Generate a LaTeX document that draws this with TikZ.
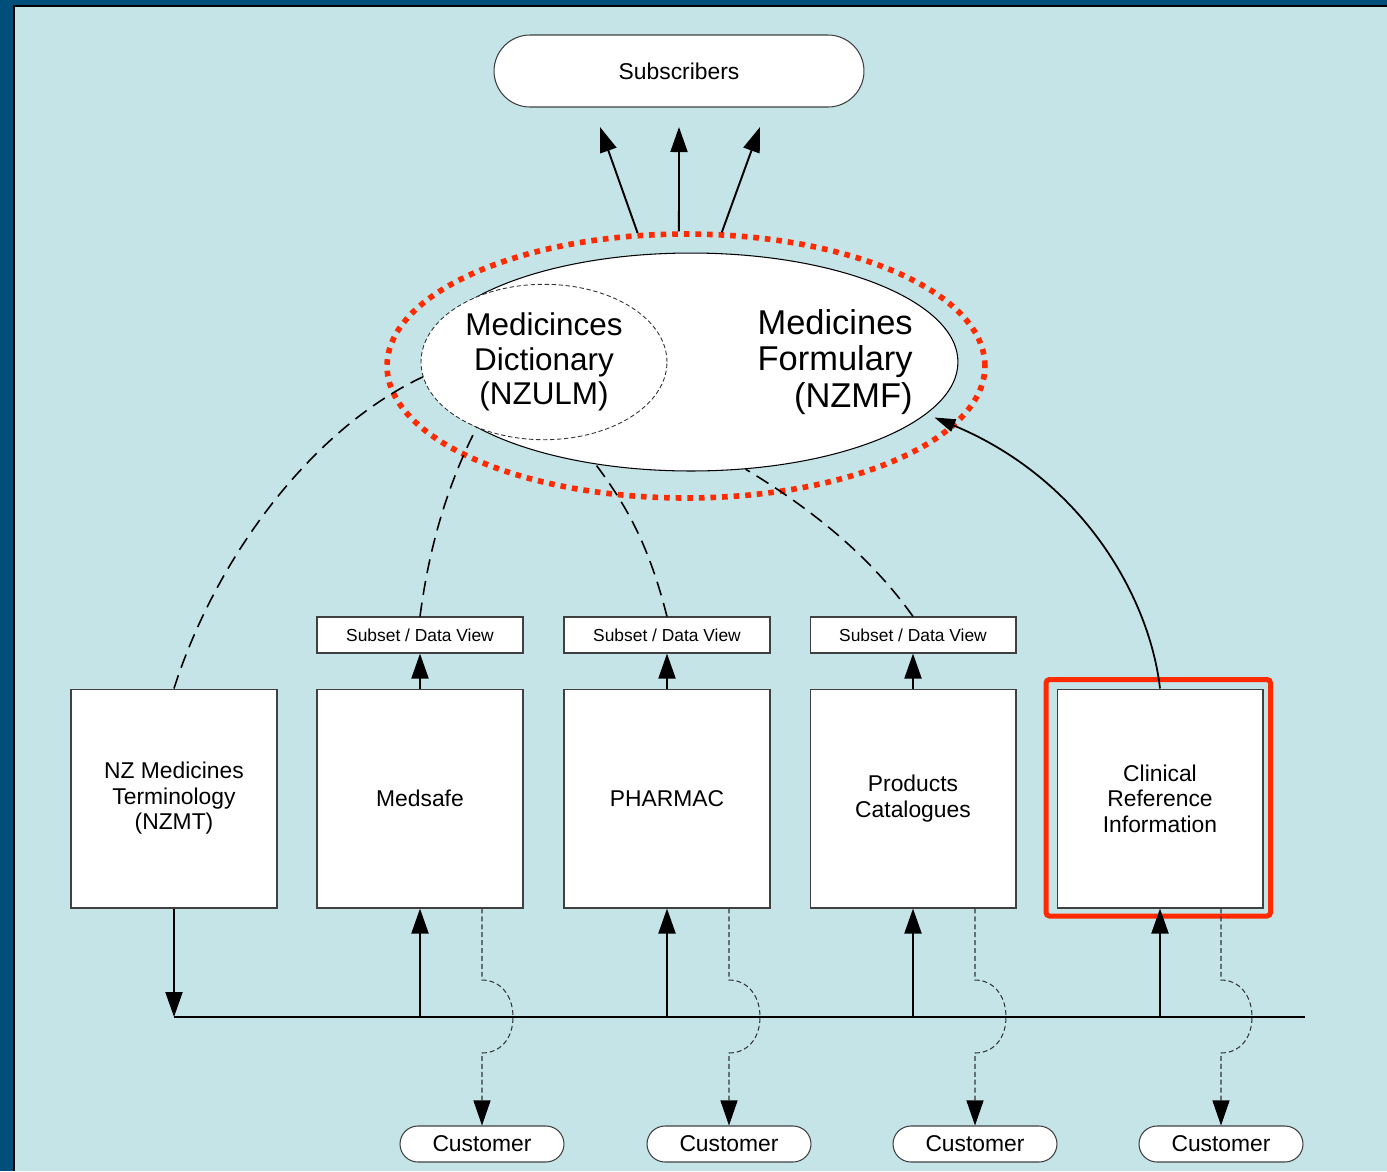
\documentclass[tikz,border=0pt]{standalone}
\usepackage{fontspec}
\setmainfont{Liberation Sans}
\usetikzlibrary{shapes.geometric,arrows.meta}
\definecolor{bgblue}{HTML}{C5E4E8}
\definecolor{frameblue}{HTML}{004F7A}
\definecolor{ringred}{HTML}{FF2A00}
\tikzset{
  box/.style={draw=black!75,fill=white,line width=0.6pt,minimum width=4.12cm,minimum height=4.38cm,
    inner sep=0pt,align=center,font=\fontsize{13}{14.5}\selectfont},
  subsetbox/.style={draw=black!75,fill=white,line width=0.6pt,minimum width=4.12cm,minimum height=0.72cm,
    inner sep=0pt,font=\fontsize{9.9}{11}\selectfont},
  pill/.style={draw=black!75,fill=white,line width=0.6pt,rounded corners=0.36cm,minimum width=3.28cm,
    minimum height=0.72cm,inner sep=0pt,font=\fontsize{13}{14.5}\selectfont},
  arr/.style={line width=1.1pt,-{Triangle[length=0.5cm,width=0.34cm]}},
  link/.style={line width=0.9pt,dash pattern=on 8pt off 4.5pt},
  hop/.style={line width=0.6pt,draw=black!80,dash pattern=on 2.8pt off 1.7pt,-{Triangle[length=0.5cm,width=0.34cm,black]}}
}
\begin{document}
\begin{tikzpicture}[x=0.02cm,y=-0.02cm]
			\useasboundingbox (0,0) rectangle (1387,1171);
			%Background
			\fill[frameblue] (0,0) rectangle (1387,1171);
			\fill[bgblue] (14,6) rectangle (1387,1171);
			\draw[line width=1.1pt] (14,1171)--(14,6)--(1387,6);
			%Top
			\node[draw=black!75,fill=white,line width=0.6pt,rounded corners=0.72cm,minimum width=7.4cm,minimum height=1.44cm,
			  font=\fontsize{13}{14.5}\selectfont] (subs) at (679,71) {Subscribers};
			\node[ellipse,draw=ringred,line width=3.2pt,dash pattern=on 3.2pt off 3.4pt,minimum width=11.96cm,minimum height=5.28cm] (ring) at (686,366) {};
			\node[ellipse,draw=black,fill=white,line width=0.6pt,minimum width=10.68cm,minimum height=4.36cm] (nzmf) at (691,362) {};
			\node[ellipse,draw=black!80,fill=white,line width=0.5pt,dash pattern=on 2.5pt off 1.5pt,minimum width=4.92cm,minimum height=2.92cm,
			  align=center,font=\fontsize{17.9}{19.6}\selectfont] (ndict) at (544,362) {Medicinces\\Dictionary\\(NZULM)};
			\node[anchor=east,align=right,inner sep=0pt,font=\fontsize{19.6}{21}\selectfont] (nzmftext) at (913,362) {Medicines\\Formulary\\(NZMF)};
			\coordinate (s1) at (600,127);
			\coordinate (s2) at (679,127);
			\coordinate (s3) at (760,127);
			\draw[arr] (ring.110)--(s1);
			\draw[arr] (ring.93)--(s2);
			\draw[arr] (ring.75)--(s3);
			%Boxes
			\node[box] (nzmt) at (174,798.5) {NZ Medicines\\Terminology\\(NZMT)};
			\node[box] (medsafe) at (420,798.5) {Medsafe};
			\node[box] (pharmac) at (667,798.5) {PHARMAC};
			\node[box] (prod) at (913,798.5) {Products\\Catalogues};
			\node[box] (cri) at (1160,798.5) {Clinical\\Reference\\Information};
			\draw[ringred,line width=2.85pt,rounded corners=2pt] ([shift={(-0.21cm,0.18cm)}]cri.north west) rectangle ([shift={(0.14cm,-0.15cm)}]cri.south east);
			%Subsets
			\node[subsetbox] (sub1) at (420,635) {Subset / Data View};
			\node[subsetbox] (sub2) at (667,635) {Subset / Data View};
			\node[subsetbox] (sub3) at (913,635) {Subset / Data View};
			\draw[arr] (medsafe.north)--(sub1.south);
			\draw[arr] (pharmac.north)--(sub2.south);
			\draw[arr] (prod.north)--(sub3.south);
			%Links up
			\draw[link] (nzmt.north) .. controls (215,560) and (310,430) .. (ndict.187);
			\draw[link] (sub1.north) .. controls (430,540) and (450,480) .. (nzmf.197);
			\draw[link] (sub2.north) .. controls (650,550) and (630,510) .. (nzmf.227);
			\draw[link] (sub3.north) .. controls (880,570) and (830,520) .. (nzmf.297);
			\draw[line width=1pt,-{Triangle[length=0.42cm,width=0.26cm]}] (cri.north) .. controls (1150,600) and (1085,480) .. ([shift={(0.12cm,-0.1cm)}]nzmf.348);
			%Bus
			\coordinate (busL) at (174,1017);
			\coordinate (busR) at (1305,1017);
			\draw[line width=1.1pt] (busL)--(busR);
			\draw[arr] (nzmt.south)--(busL);
			\draw[arr] (medsafe.south|-busL)--(medsafe.south);
			\draw[arr] (pharmac.south|-busL)--(pharmac.south);
			\draw[arr] (prod.south|-busL)--(prod.south);
			\draw[arr] (cri.south|-busL)--(cri.south);
			%Customers
			\node[pill] (cust1) at (482,1144) {Customer};
			\node[pill] (cust2) at (729,1144) {Customer};
			\node[pill] (cust3) at (975,1144) {Customer};
			\node[pill] (cust4) at (1221,1144) {Customer};
			\draw[hop] (cust1.north|-medsafe.south)--(482,980) .. controls (500,980) and (513,995) .. (513,1017)
			  .. controls (513,1039) and (500,1053) .. (482,1053)--(cust1.north);
			\draw[hop] (cust2.north|-pharmac.south)--(729,980) .. controls (747,980) and (760,995) .. (760,1017)
			  .. controls (760,1039) and (747,1053) .. (729,1053)--(cust2.north);
			\draw[hop] (cust3.north|-prod.south)--(975,980) .. controls (993,980) and (1006,995) .. (1006,1017)
			  .. controls (1006,1039) and (993,1053) .. (975,1053)--(cust3.north);
			\draw[hop] (cust4.north|-cri.south)--(1221,980) .. controls (1239,980) and (1252,995) .. (1252,1017)
			  .. controls (1252,1039) and (1239,1053) .. (1221,1053)--(cust4.north);
\end{tikzpicture}
\end{document}
